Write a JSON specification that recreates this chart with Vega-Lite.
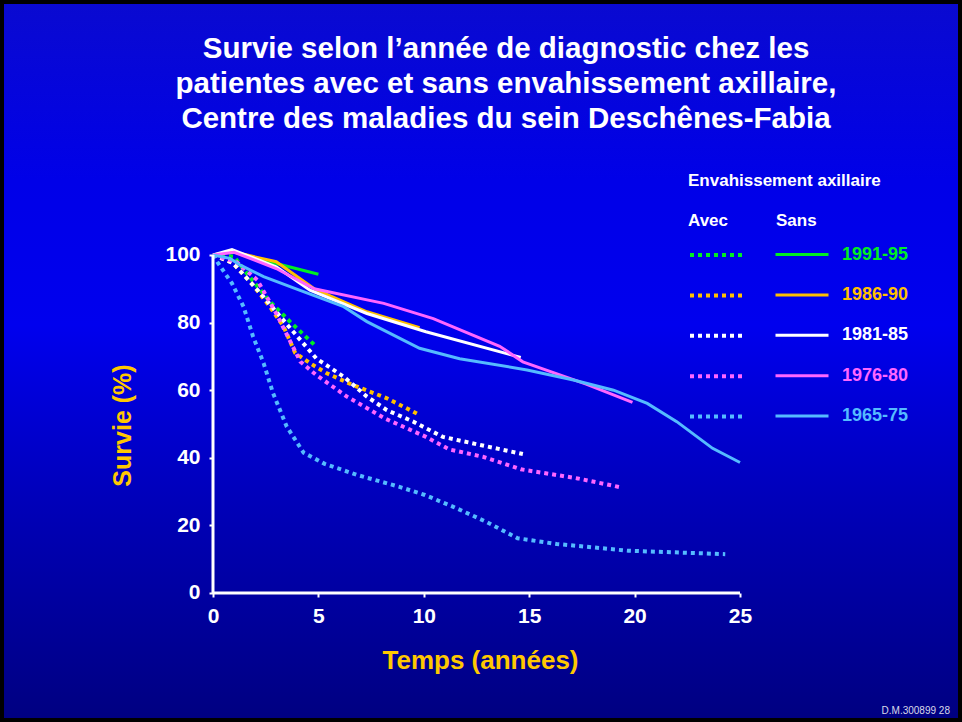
{
  "$schema": "https://vega.github.io/schema/vega-lite/v6.json",
  "width": 962,
  "height": 722,
  "padding": 0,
  "autosize": {"type": "none"},
  "background": "#000000",
  "config": {
    "view": {"stroke": null},
    "font": "Liberation Sans"
  },
  "title": {
    "text": ["Survie selon l’année de diagnostic chez les", "patientes avec et sans envahissement axillaire,", "Centre des maladies du sein Deschênes-Fabia"],
    "font": "Liberation Sans",
    "fontSize": 29.5,
    "fontWeight": "bold",
    "color": "#ffffff",
    "anchor": "middle",
    "frame": "group",
    "orient": "top",
    "offset": -138,
    "dx": 25,
    "lineHeight": 35
  },
  "datasets": {
    "avec": [
      {"p": "1991-95", "t": 0, "s": 100}, {"p": "1991-95", "t": 1, "s": 99.5}, {"p": "1991-95", "t": 1.6, "s": 94.6}, {"p": "1991-95", "t": 2.7, "s": 86.2}, {"p": "1991-95", "t": 3.65, "s": 80.3}, {"p": "1991-95", "t": 4.8, "s": 73.5},
      {"p": "1986-90", "t": 0, "s": 100}, {"p": "1986-90", "t": 0.95, "s": 97.6}, {"p": "1986-90", "t": 1.9, "s": 91.1}, {"p": "1986-90", "t": 2.7, "s": 84.7}, {"p": "1986-90", "t": 3.35, "s": 78.8}, {"p": "1986-90", "t": 3.9, "s": 71}, {"p": "1986-90", "t": 4.6, "s": 68}, {"p": "1986-90", "t": 5.4, "s": 65}, {"p": "1986-90", "t": 6.65, "s": 61.5}, {"p": "1986-90", "t": 8.25, "s": 57.6}, {"p": "1986-90", "t": 9.8, "s": 52.7},
      {"p": "1981-85", "t": 0, "s": 100}, {"p": "1981-85", "t": 0.95, "s": 97.6}, {"p": "1981-85", "t": 2.25, "s": 88.7}, {"p": "1981-85", "t": 3, "s": 83.2}, {"p": "1981-85", "t": 4, "s": 75.9}, {"p": "1981-85", "t": 4.9, "s": 69.4}, {"p": "1981-85", "t": 6.2, "s": 64}, {"p": "1981-85", "t": 7.3, "s": 58.1}, {"p": "1981-85", "t": 8.25, "s": 54.1}, {"p": "1981-85", "t": 9.5, "s": 50.7}, {"p": "1981-85", "t": 10.9, "s": 46.2}, {"p": "1981-85", "t": 12.3, "s": 44.3}, {"p": "1981-85", "t": 14.7, "s": 41.1},
      {"p": "1976-80", "t": 0, "s": 100}, {"p": "1976-80", "t": 1.1, "s": 98}, {"p": "1976-80", "t": 2.1, "s": 92.6}, {"p": "1976-80", "t": 3, "s": 82.7}, {"p": "1976-80", "t": 4.15, "s": 68.4}, {"p": "1976-80", "t": 4.9, "s": 64.5}, {"p": "1976-80", "t": 6.35, "s": 58.1}, {"p": "1976-80", "t": 8.2, "s": 51.5}, {"p": "1976-80", "t": 10.1, "s": 46.2}, {"p": "1976-80", "t": 11.2, "s": 42.5}, {"p": "1976-80", "t": 12.8, "s": 40.3}, {"p": "1976-80", "t": 14.6, "s": 36.6}, {"p": "1976-80", "t": 17.3, "s": 33.9}, {"p": "1976-80", "t": 19.4, "s": 31.2},
      {"p": "1965-75", "t": 0, "s": 100}, {"p": "1965-75", "t": 0.25, "s": 97.5}, {"p": "1965-75", "t": 0.9, "s": 91.6}, {"p": "1965-75", "t": 1.45, "s": 84.7}, {"p": "1965-75", "t": 1.9, "s": 75.9}, {"p": "1965-75", "t": 2.4, "s": 68}, {"p": "1965-75", "t": 2.85, "s": 59.1}, {"p": "1965-75", "t": 3.5, "s": 49.2}, {"p": "1965-75", "t": 4.3, "s": 41.5}, {"p": "1965-75", "t": 5.3, "s": 38.2}, {"p": "1965-75", "t": 6.85, "s": 34.9}, {"p": "1965-75", "t": 8.85, "s": 31.4}, {"p": "1965-75", "t": 10.05, "s": 29}, {"p": "1965-75", "t": 11.4, "s": 25.5}, {"p": "1965-75", "t": 12.95, "s": 21.1}, {"p": "1965-75", "t": 14.45, "s": 16.2}, {"p": "1965-75", "t": 16.3, "s": 14.5}, {"p": "1965-75", "t": 19.7, "s": 12.5}, {"p": "1965-75", "t": 24.3, "s": 11.5}
    ],
    "sans": [
      {"p": "1991-95", "t": 0, "s": 100}, {"p": "1991-95", "t": 0.9, "s": 101}, {"p": "1991-95", "t": 3, "s": 97.5}, {"p": "1991-95", "t": 5, "s": 94.3},
      {"p": "1986-90", "t": 0, "s": 100}, {"p": "1986-90", "t": 0.9, "s": 101}, {"p": "1986-90", "t": 3, "s": 98}, {"p": "1986-90", "t": 4.8, "s": 90}, {"p": "1986-90", "t": 7.3, "s": 83.2}, {"p": "1986-90", "t": 9.8, "s": 78.5},
      {"p": "1981-85", "t": 0, "s": 100}, {"p": "1981-85", "t": 0.9, "s": 101.6}, {"p": "1981-85", "t": 3, "s": 96.5}, {"p": "1981-85", "t": 4.6, "s": 89.6}, {"p": "1981-85", "t": 7.3, "s": 82.7}, {"p": "1981-85", "t": 10.1, "s": 77.3}, {"p": "1981-85", "t": 14.6, "s": 69.7},
      {"p": "1976-80", "t": 0, "s": 100}, {"p": "1976-80", "t": 1, "s": 100.8}, {"p": "1976-80", "t": 3, "s": 96}, {"p": "1976-80", "t": 4.8, "s": 90}, {"p": "1976-80", "t": 8.1, "s": 85.7}, {"p": "1976-80", "t": 10.45, "s": 81.2}, {"p": "1976-80", "t": 13.6, "s": 73}, {"p": "1976-80", "t": 14.7, "s": 68.4}, {"p": "1976-80", "t": 17.7, "s": 61.8}, {"p": "1976-80", "t": 19.9, "s": 56.4},
      {"p": "1965-75", "t": 0, "s": 100}, {"p": "1965-75", "t": 0.8, "s": 99}, {"p": "1965-75", "t": 1.3, "s": 97}, {"p": "1965-75", "t": 2.4, "s": 93.6}, {"p": "1965-75", "t": 4.1, "s": 89.6}, {"p": "1965-75", "t": 6.2, "s": 84.7}, {"p": "1965-75", "t": 7.3, "s": 80.3}, {"p": "1965-75", "t": 9.8, "s": 72.4}, {"p": "1965-75", "t": 11.7, "s": 69.3}, {"p": "1965-75", "t": 14.9, "s": 66}, {"p": "1965-75", "t": 17.1, "s": 63}, {"p": "1965-75", "t": 19, "s": 60}, {"p": "1965-75", "t": 20.6, "s": 56.1}, {"p": "1965-75", "t": 22, "s": 50.7}, {"p": "1965-75", "t": 23.7, "s": 42.8}, {"p": "1965-75", "t": 25, "s": 38.6}
    ]
  },
  "resolve": {"scale": {"color": "independent"}, "legend": {"color": "independent"}},
  "layer": [
    {
      "data": {"values": [{}]},
      "mark": {
        "type": "rect",
        "fill": {
          "gradient": "linear", "x1": 0, "y1": 0, "x2": 0, "y2": 1,
          "stops": [
            {"offset": 0, "color": "#0a0ad0"},
            {"offset": 0.25, "color": "#0000e8"},
            {"offset": 0.45, "color": "#0000ee"},
            {"offset": 0.7, "color": "#0000b8"},
            {"offset": 1, "color": "#000080"}
          ]
        },
        "stroke": "#000000",
        "strokeWidth": 8
      },
      "encoding": {}
    },
    {
      "data": {"name": "avec"},
      "mark": {"type": "line", "strokeWidth": 4, "strokeDash": [4, 4], "strokeCap": "butt", "clip": false},
      "encoding": {
        "x": {
          "field": "t", "type": "quantitative",
          "scale": {"domain": [-10.104, 35.531], "nice": false, "zero": false},
          "axis": {"zindex": 2, "values": [0, 5, 10, 15, 20, 25], "offset": -129, "domain": false, "grid": false, "ticks": true, "tickSize": 4, "tickWidth": 2, "tickColor": "#ffffff", "labelColor": "#ffffff", "labelFont": "Liberation Sans", "labelFontWeight": "bold", "labelFontSize": 21, "labelPadding": 8, "labelFlush": false, "labelOverlap": false, "title": "Temps (années)", "titleFont": "Liberation Sans", "titleColor": "#ffc800", "titleFontSize": 26, "titleFontWeight": "bold", "titleX": 480, "titleY": 67, "titleAlign": "center", "titleBaseline": "middle"}
        },
        "y": {
          "field": "s", "type": "quantitative",
          "scale": {"domain": [-38.166, 175.443], "nice": false, "zero": false},
          "axis": {"zindex": 2, "values": [0, 20, 40, 60, 80, 100], "offset": -213, "domain": false, "grid": false, "ticks": true, "tickSize": 4, "tickWidth": 2, "tickColor": "#ffffff", "labelColor": "#ffffff", "labelFont": "Liberation Sans", "labelFontWeight": "bold", "labelFontSize": 21, "labelPadding": 9, "labelFlush": false, "labelOverlap": false, "title": "Survie (%)", "titleFont": "Liberation Sans", "titleColor": "#ffc800", "titleFontSize": 25, "titleFontWeight": "bold", "titleAngle": -90, "titleX": -91, "titleY": 425, "titleAlign": "center", "titleBaseline": "middle"}
        },
        "color": {
          "field": "p", "type": "nominal",
          "scale": {"domain": ["1991-95", "1986-90", "1981-85", "1976-80", "1965-75"], "range": ["#00ee22", "#ffc000", "#ffffff", "#ff66ff", "#55bbff"]},
          "legend": {
            "orient": "none",
            "legendX": 688,
            "legendY": 173,
            "padding": 0,
            "title": ["Envahissement axillaire", "Avec"],
            "titleFont": "Liberation Sans",
            "titleFontSize": 17,
            "titleFontWeight": "bold",
            "titleColor": "#ffffff",
            "titleLineHeight": 40,
            "titlePadding": 13,
            "titleAnchor": "start",
            "titleLimit": 400,
            "symbolType": "M-1,0H4.3",
            "symbolSize": 400,
            "symbolStrokeWidth": 4,
            "symbolDash": [4, 4],
            "symbolFillColor": "transparent",
            "labelExpr": "''",
            "labelFontSize": 18,
            "rowPadding": 19.4
          }
        }
      }
    },
    {
      "data": {"name": "sans"},
      "mark": {"type": "line", "strokeWidth": 3, "clip": false},
      "encoding": {
        "x": {
          "field": "t", "type": "quantitative",
          "scale": {"domain": [-10.104, 35.531], "nice": false, "zero": false},
          "axis": {"zindex": 2, "values": [0, 5, 10, 15, 20, 25], "offset": -129, "domain": false, "grid": false, "ticks": true, "tickSize": 4, "tickWidth": 2, "tickColor": "#ffffff", "labelColor": "#ffffff", "labelFont": "Liberation Sans", "labelFontWeight": "bold", "labelFontSize": 21, "labelPadding": 8, "labelFlush": false, "labelOverlap": false, "title": "Temps (années)", "titleFont": "Liberation Sans", "titleColor": "#ffc800", "titleFontSize": 26, "titleFontWeight": "bold", "titleX": 480, "titleY": 67, "titleAlign": "center", "titleBaseline": "middle"}
        },
        "y": {
          "field": "s", "type": "quantitative",
          "scale": {"domain": [-38.166, 175.443], "nice": false, "zero": false},
          "axis": {"zindex": 2, "values": [0, 20, 40, 60, 80, 100], "offset": -213, "domain": false, "grid": false, "ticks": true, "tickSize": 4, "tickWidth": 2, "tickColor": "#ffffff", "labelColor": "#ffffff", "labelFont": "Liberation Sans", "labelFontWeight": "bold", "labelFontSize": 21, "labelPadding": 9, "labelFlush": false, "labelOverlap": false, "title": "Survie (%)", "titleFont": "Liberation Sans", "titleColor": "#ffc800", "titleFontSize": 25, "titleFontWeight": "bold", "titleAngle": -90, "titleX": -91, "titleY": 425, "titleAlign": "center", "titleBaseline": "middle"}
        },
        "color": {
          "field": "p", "type": "nominal",
          "scale": {"domain": ["1991-95", "1986-90", "1981-85", "1976-80", "1965-75"], "range": ["#00ee22", "#ffc000", "#ffffff", "#ff66ff", "#55bbff"]},
          "legend": {
            "orient": "none",
            "legendX": 776,
            "legendY": 213,
            "padding": 0,
            "title": "Sans",
            "titleFont": "Liberation Sans",
            "titleFontSize": 17,
            "titleFontWeight": "bold",
            "titleColor": "#ffffff",
            "titlePadding": 13,
            "titleAnchor": "start",
            "symbolType": "M-1.2,0H4.1",
            "symbolSize": 400,
            "symbolStrokeWidth": 3,
            "symbolFillColor": "transparent",
            "labelFont": "Liberation Sans",
            "labelFontSize": 18,
            "labelFontWeight": "bold",
            "labelOffset": 43,
            "labelBaseline": "middle",
            "labelColor": {"expr": "datum.label == '1991-95' ? '#00ee22' : datum.label == '1986-90' ? '#ffc000' : datum.label == '1976-80' ? '#ff66ff' : datum.label == '1965-75' ? '#55bbff' : '#ffffff'"},
            "rowPadding": 19.4
          }
        }
      }
    },
    {
      "data": {"values": [{}]},
      "mark": {"type": "rule", "color": "#ffffff", "strokeWidth": 3},
      "encoding": {
        "x": {
          "datum": 0, "type": "quantitative",
          "scale": {"domain": [-10.104, 35.531], "nice": false, "zero": false},
          "axis": {"zindex": 2, "values": [0, 5, 10, 15, 20, 25], "offset": -129, "domain": false, "grid": false, "ticks": true, "tickSize": 4, "tickWidth": 2, "tickColor": "#ffffff", "labelColor": "#ffffff", "labelFont": "Liberation Sans", "labelFontWeight": "bold", "labelFontSize": 21, "labelPadding": 8, "labelFlush": false, "labelOverlap": false, "title": "Temps (années)", "titleFont": "Liberation Sans", "titleColor": "#ffc800", "titleFontSize": 26, "titleFontWeight": "bold", "titleX": 480, "titleY": 67, "titleAlign": "center", "titleBaseline": "middle"}
        },
        "x2": {"datum": 25},
        "y": {
          "datum": 0, "type": "quantitative",
          "scale": {"domain": [-38.166, 175.443], "nice": false, "zero": false},
          "axis": {"zindex": 2, "values": [0, 20, 40, 60, 80, 100], "offset": -213, "domain": false, "grid": false, "ticks": true, "tickSize": 4, "tickWidth": 2, "tickColor": "#ffffff", "labelColor": "#ffffff", "labelFont": "Liberation Sans", "labelFontWeight": "bold", "labelFontSize": 21, "labelPadding": 9, "labelFlush": false, "labelOverlap": false, "title": "Survie (%)", "titleFont": "Liberation Sans", "titleColor": "#ffc800", "titleFontSize": 25, "titleFontWeight": "bold", "titleAngle": -90, "titleX": -91, "titleY": 425, "titleAlign": "center", "titleBaseline": "middle"}
        }
      }
    },
    {
      "data": {"values": [{}]},
      "mark": {"type": "rule", "color": "#ffffff", "strokeWidth": 3},
      "encoding": {
        "x": {
          "datum": 0, "type": "quantitative",
          "scale": {"domain": [-10.104, 35.531], "nice": false, "zero": false},
          "axis": {"zindex": 2, "values": [0, 5, 10, 15, 20, 25], "offset": -129, "domain": false, "grid": false, "ticks": true, "tickSize": 4, "tickWidth": 2, "tickColor": "#ffffff", "labelColor": "#ffffff", "labelFont": "Liberation Sans", "labelFontWeight": "bold", "labelFontSize": 21, "labelPadding": 8, "labelFlush": false, "labelOverlap": false, "title": "Temps (années)", "titleFont": "Liberation Sans", "titleColor": "#ffc800", "titleFontSize": 26, "titleFontWeight": "bold", "titleX": 480, "titleY": 67, "titleAlign": "center", "titleBaseline": "middle"}
        },
        "y": {
          "datum": 0, "type": "quantitative",
          "scale": {"domain": [-38.166, 175.443], "nice": false, "zero": false},
          "axis": {"zindex": 2, "values": [0, 20, 40, 60, 80, 100], "offset": -213, "domain": false, "grid": false, "ticks": true, "tickSize": 4, "tickWidth": 2, "tickColor": "#ffffff", "labelColor": "#ffffff", "labelFont": "Liberation Sans", "labelFontWeight": "bold", "labelFontSize": 21, "labelPadding": 9, "labelFlush": false, "labelOverlap": false, "title": "Survie (%)", "titleFont": "Liberation Sans", "titleColor": "#ffc800", "titleFontSize": 25, "titleFontWeight": "bold", "titleAngle": -90, "titleX": -91, "titleY": 425, "titleAlign": "center", "titleBaseline": "middle"}
        },
        "y2": {"datum": 100}
      }
    },
    {
      "data": {"values": [{"note": "D.M.300899  28"}]},
      "mark": {"type": "text", "align": "right", "baseline": "middle", "font": "Liberation Sans", "fontSize": 10, "color": "#d8d8e8"},
      "encoding": {
        "x": {
          "datum": 34.96, "type": "quantitative",
          "scale": {"domain": [-10.104, 35.531], "nice": false, "zero": false},
          "axis": {"zindex": 2, "values": [0, 5, 10, 15, 20, 25], "offset": -129, "domain": false, "grid": false, "ticks": true, "tickSize": 4, "tickWidth": 2, "tickColor": "#ffffff", "labelColor": "#ffffff", "labelFont": "Liberation Sans", "labelFontWeight": "bold", "labelFontSize": 21, "labelPadding": 8, "labelFlush": false, "labelOverlap": false, "title": "Temps (années)", "titleFont": "Liberation Sans", "titleColor": "#ffc800", "titleFontSize": 26, "titleFontWeight": "bold", "titleX": 480, "titleY": 67, "titleAlign": "center", "titleBaseline": "middle"}
        },
        "y": {
          "datum": -34.9, "type": "quantitative",
          "scale": {"domain": [-38.166, 175.443], "nice": false, "zero": false},
          "axis": {"zindex": 2, "values": [0, 20, 40, 60, 80, 100], "offset": -213, "domain": false, "grid": false, "ticks": true, "tickSize": 4, "tickWidth": 2, "tickColor": "#ffffff", "labelColor": "#ffffff", "labelFont": "Liberation Sans", "labelFontWeight": "bold", "labelFontSize": 21, "labelPadding": 9, "labelFlush": false, "labelOverlap": false, "title": "Survie (%)", "titleFont": "Liberation Sans", "titleColor": "#ffc800", "titleFontSize": 25, "titleFontWeight": "bold", "titleAngle": -90, "titleX": -91, "titleY": 425, "titleAlign": "center", "titleBaseline": "middle"}
        },
        "text": {"field": "note"}
      }
    }
  ]
}
